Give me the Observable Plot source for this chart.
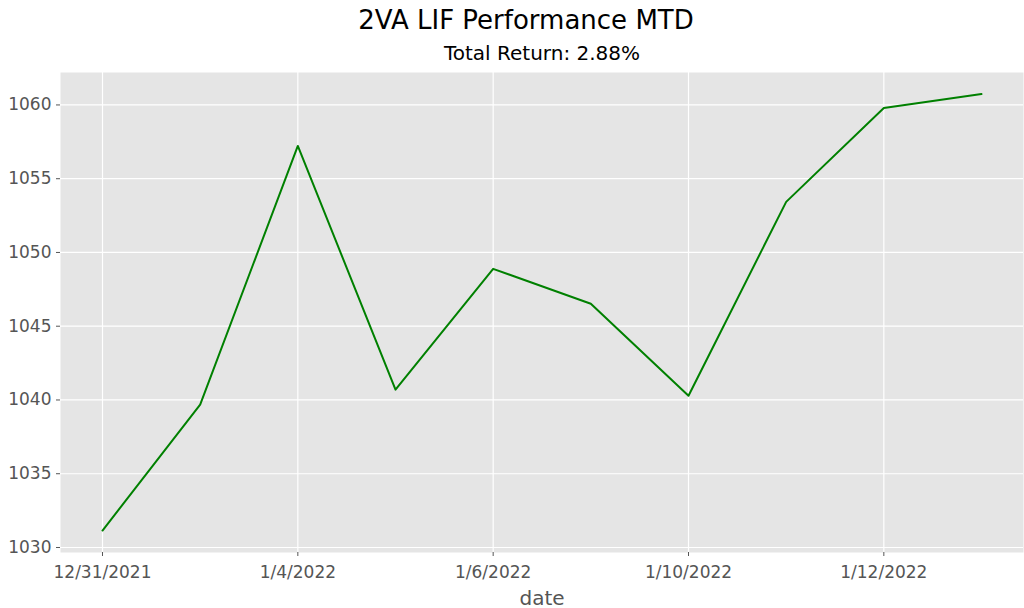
<!DOCTYPE html>
<html>
<head>
<meta charset="utf-8">
<script src="https://cdn.jsdelivr.net/npm/d3@7"></script>
<script src="https://cdn.jsdelivr.net/npm/@observablehq/plot@0.6"></script>
<style>
  html, body { margin: 0; padding: 0; background: #fff; }
  body { width: 1024px; height: 608px; overflow: hidden; font-family: "DejaVu Sans", sans-serif; }
  #title { height: 40px; line-height: 40px; font-size: 26px; text-align: center; color: #000; padding-left: 28px; box-sizing: border-box; }
  #subtitle { height: 26px; line-height: 26px; font-size: 20px; text-align: center; color: #000; padding-left: 60px; box-sizing: border-box; }
  svg { display: block; }
</style>
</head>
<body>
<div id="title"></div>
<div id="subtitle"></div>
<div id="chart"></div>
<script>
const titleText = "2VA LIF Performance MTD";
const subtitleText = "Total Return: 2.88%";
const dates = ["12/31/2021", "1/3/2022", "1/4/2022", "1/5/2022", "1/6/2022", "1/7/2022", "1/10/2022", "1/11/2022", "1/12/2022", "1/13/2022"];
const values = [1031.15, 1039.68, 1057.22, 1040.70, 1048.89, 1046.52, 1040.29, 1053.43, 1059.79, 1060.74];
const xTicks = ["12/31/2021", "1/4/2022", "1/6/2022", "1/10/2022", "1/12/2022"];
const yTicks = [1030, 1035, 1040, 1045, 1050, 1055, 1060];
const xLabel = "date";

document.getElementById("title").textContent = titleText;
document.getElementById("subtitle").textContent = subtitleText;

const data = dates.map((d, i) => ({date: d, value: values[i]}));

const chart = Plot.plot({
  width: 1024,
  height: 542,
  marginTop: 6,
  marginBottom: 56,
  marginLeft: 60,
  marginRight: 1,
  style: {fontFamily: "DejaVu Sans, sans-serif", fontSize: "17px", background: "#fff"},
  x: {type: "point", domain: dates, padding: 0.43, round: false, label: null},
  y: {domain: [1029.66, 1062.2], label: null},
  marks: [
    Plot.frame({fill: "#E5E5E5", stroke: null}),
    Plot.gridX(xTicks, {stroke: "#fff", strokeOpacity: 1, strokeWidth: 1.2}),
    Plot.gridY(yTicks, {stroke: "#fff", strokeOpacity: 1, strokeWidth: 1.2}),
    Plot.axisX(xTicks, {tickSize: 4, tickPadding: 9, stroke: "#555", fill: "#555", fontSize: 17, label: null}),
    Plot.axisY(yTicks, {tickSize: 4, tickPadding: 5, stroke: "#555", fill: "#555", fontSize: 17, label: null, tickFormat: d => String(d)}),
    Plot.text([xLabel], {frameAnchor: "bottom", dy: 52, fill: "#555", fontSize: 20, text: d => d}),
    Plot.line(data, {x: "date", y: "value", stroke: "green", strokeWidth: 2})
  ]
});
document.getElementById("chart").appendChild(chart);
</script>
</body>
</html>
